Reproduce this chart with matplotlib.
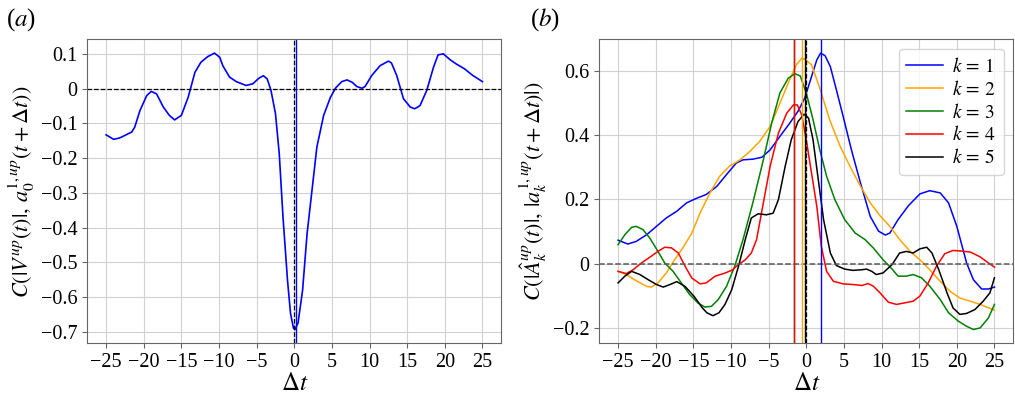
import matplotlib
matplotlib.use("Agg")
import matplotlib.pyplot as plt
import numpy as np

plt.rcParams['font.family'] = ['Liberation Serif', 'DejaVu Serif']
plt.rcParams['mathtext.fontset'] = 'stix'
plt.rcParams['axes.edgecolor'] = '0.4'
plt.rcParams['xtick.color'] = '0.4'
plt.rcParams['ytick.color'] = '0.4'
plt.rcParams['xtick.labelcolor'] = 'black'
plt.rcParams['ytick.labelcolor'] = 'black'

# ---- panel (a): C(|V^up|, a_0) vs lag
dt_a = [-25.0, -24.0, -23.2, -21.6, -21.2, -20.5, -19.6, -19.0, -18.3, -17.4,
        -16.6, -15.9, -15.0, -14.1, -13.2, -12.4, -11.5, -10.6, -9.9, -9.5,
        -8.6, -7.7, -6.4, -5.5, -4.7, -4.1, -3.6, -3.1, -2.5, -2.0,
        -1.5, -0.9, -0.5, -0.1, 0.1, 0.5, 1.1, 1.7, 2.4, 3.0,
        3.9, 4.8, 5.5, 6.3, 7.0, 7.7, 8.3, 9.0, 9.4, 10.3,
        11.4, 12.5, 12.9, 13.6, 14.5, 15.4, 16.0, 16.7, 17.6, 18.5,
        19.1, 19.8, 20.7, 21.5, 22.6, 23.7, 25.0]
corr_a = [-0.133, -0.146, -0.142, -0.125, -0.111, -0.063, -0.020, -0.008, -0.015, -0.053,
          -0.077, -0.090, -0.077, -0.025, 0.047, 0.076, 0.092, 0.102, 0.090, 0.066,
          0.033, 0.020, 0.009, 0.014, 0.030, 0.037, 0.028, -0.005, -0.072, -0.187,
          -0.370, -0.552, -0.647, -0.690, -0.693, -0.674, -0.580, -0.417, -0.283, -0.168,
          -0.077, -0.025, 0.002, 0.020, 0.025, 0.018, 0.006, 0.001, 0.006, 0.038,
          0.066, 0.079, 0.074, 0.038, -0.029, -0.053, -0.058, -0.049, -0.005, 0.062,
          0.097, 0.100, 0.083, 0.071, 0.057, 0.038, 0.020]
peak_a = 0.2

# ---- panel (b): C(|A_k^up|, |a_k|) vs lag, k = 1..5
dt_k1 = [-25.0, -23.7, -22.6, -21.2, -19.9, -18.6, -17.2, -15.9, -14.6, -13.3,
         -11.9, -10.6, -9.3, -8.4, -7.1, -5.9, -4.8, -3.5, -2.2, -1.1,
         -0.2, 0.7, 1.4, 1.9, 2.5, 3.2, 4.0, 4.9, 6.0, 7.2,
         8.5, 9.6, 10.5, 11.1, 12.2, 13.6, 15.1, 16.4, 17.8, 18.9,
         20.0, 21.3, 22.2, 23.3, 24.2, 25.0]
corr_k1 = [0.073, 0.061, 0.069, 0.090, 0.116, 0.142, 0.163, 0.189, 0.203, 0.215,
           0.240, 0.277, 0.313, 0.323, 0.325, 0.331, 0.354, 0.396, 0.437, 0.474,
           0.515, 0.582, 0.634, 0.655, 0.647, 0.613, 0.541, 0.458, 0.354, 0.251,
           0.147, 0.101, 0.089, 0.095, 0.137, 0.181, 0.217, 0.227, 0.220, 0.189,
           0.116, 0.002, -0.050, -0.079, -0.079, -0.073]

dt_k2 = [-25.0, -23.9, -22.6, -21.2, -20.6, -19.7, -18.6, -17.5, -16.4, -15.2,
         -14.1, -12.8, -11.5, -10.2, -8.8, -7.5, -6.2, -4.8, -3.5, -2.4,
         -1.3, -0.6, -0.2, 0.7, 1.8, 3.1, 4.5, 5.8, 7.2, 8.5,
         9.8, 11.1, 12.4, 13.8, 15.1, 16.4, 17.8, 19.1, 20.4, 21.8,
         23.1, 25.0]
corr_k2 = [-0.024, -0.034, -0.053, -0.071, -0.073, -0.060, -0.029, 0.012, 0.049, 0.095,
           0.158, 0.220, 0.272, 0.303, 0.323, 0.349, 0.380, 0.427, 0.499, 0.562,
           0.619, 0.639, 0.636, 0.619, 0.546, 0.448, 0.365, 0.303, 0.241, 0.189,
           0.149, 0.116, 0.075, 0.038, 0.012, -0.019, -0.055, -0.086, -0.107, -0.117,
           -0.127, -0.145]

dt_k3 = [-25.0, -24.1, -23.2, -22.6, -21.7, -20.8, -19.7, -18.8, -17.7, -16.6,
         -15.5, -14.4, -13.5, -12.6, -11.7, -10.6, -9.5, -8.4, -7.1, -5.7,
         -4.6, -3.5, -2.4, -1.5, -0.8, 0.0, 0.9, 1.8, 2.7, 3.8,
         5.1, 6.5, 7.8, 8.9, 10.2, 11.4, 12.2, 13.3, 14.2, 15.3,
         16.4, 17.8, 18.9, 20.2, 21.3, 22.2, 23.1, 24.2, 25.0]
corr_k3 = [0.059, 0.090, 0.113, 0.116, 0.106, 0.080, 0.038, 0.002, -0.024, -0.060,
           -0.096, -0.122, -0.135, -0.133, -0.112, -0.071, -0.008, 0.075, 0.189, 0.323,
           0.437, 0.531, 0.577, 0.591, 0.584, 0.531, 0.448, 0.354, 0.272, 0.199,
           0.137, 0.095, 0.075, 0.049, 0.012, -0.017, -0.039, -0.039, -0.034, -0.044,
           -0.070, -0.112, -0.153, -0.179, -0.195, -0.205, -0.200, -0.169, -0.127]

dt_k4 = [-25.0, -23.9, -23.0, -21.9, -20.6, -19.7, -18.8, -17.9, -17.0, -16.1,
         -15.2, -14.1, -13.3, -12.1, -11.0, -9.9, -9.0, -8.1, -7.3, -6.6,
         -5.7, -4.8, -3.7, -2.6, -1.7, -1.2, -0.6, 0.0, 0.7, 1.4,
         2.0, 2.7, 3.6, 4.9, 6.2, 7.4, 8.2, 8.9, 9.8, 10.9,
         12.0, 13.1, 14.2, 15.1, 16.2, 17.3, 18.4, 19.5, 20.6, 21.8,
         23.1, 24.2, 25.0]
corr_k4 = [-0.024, -0.031, -0.019, 0.002, 0.023, 0.038, 0.051, 0.049, 0.033, -0.008,
           -0.045, -0.063, -0.060, -0.039, -0.031, -0.021, -0.003, 0.012, 0.033, 0.075,
           0.189, 0.303, 0.406, 0.468, 0.494, 0.494, 0.463, 0.385, 0.282, 0.178,
           0.054, -0.024, -0.055, -0.063, -0.065, -0.068, -0.062, -0.070, -0.091, -0.120,
           -0.127, -0.122, -0.117, -0.101, -0.060, -0.008, 0.031, 0.041, 0.039, 0.036,
           0.021, 0.002, -0.011]

dt_k5 = [-25.0, -24.1, -23.2, -22.1, -21.0, -19.9, -19.0, -18.1, -17.2, -16.1,
         -14.9, -13.8, -13.2, -12.4, -11.6, -10.8, -9.9, -9.0, -8.1, -7.3,
         -6.4, -5.3, -4.4, -3.7, -2.8, -2.0, -1.1, -0.3, 0.3, 0.9,
         1.6, 2.3, 3.2, 4.0, 5.1, 6.2, 7.4, 8.0, 8.7, 9.3,
         10.2, 11.4, 12.4, 13.3, 14.2, 15.1, 16.0, 16.7, 17.6, 18.7,
         19.5, 20.4, 21.3, 22.4, 23.5, 24.4, 25.0]
corr_k5 = [-0.060, -0.039, -0.024, -0.034, -0.050, -0.065, -0.073, -0.065, -0.056, -0.071,
           -0.102, -0.138, -0.153, -0.162, -0.153, -0.127, -0.081, -0.008, 0.075, 0.142,
           0.155, 0.152, 0.157, 0.199, 0.303, 0.385, 0.442, 0.465, 0.453, 0.385,
           0.261, 0.137, 0.033, -0.006, -0.017, -0.021, -0.019, -0.017, -0.024, -0.034,
           -0.029, -0.003, 0.033, 0.038, 0.033, 0.046, 0.051, 0.033, -0.019, -0.091,
           -0.138, -0.158, -0.155, -0.143, -0.117, -0.091, -0.044]

modes = ['$k\\,=\\,1$', '$k\\,=\\,2$', '$k\\,=\\,3$', '$k\\,=\\,4$', '$k\\,=\\,5$']
colors = ['blue', 'orange', 'green', 'red', 'black']
peaks_b = [2.0, -0.55, -1.6, -1.6, -0.2]
dts_b = [dt_k1, dt_k2, dt_k3, dt_k4, dt_k5]
corrs_b = [corr_k1, corr_k2, corr_k3, corr_k4, corr_k5]

fig = plt.figure(figsize=(10.15, 3.98), dpi=100)
ax1 = fig.add_axes([0.086, 0.1374, 0.4079, 0.7638])
ax2 = fig.add_axes([0.5904, 0.1374, 0.4079, 0.7638])

# (a)
ax1.grid(True, color='0.82', linewidth=0.8)
ax1.set_axisbelow(True)
ax1.plot(dt_a, corr_a, color='blue', linewidth=1.2)
ax1.axhline(0, color='black', linestyle='--', linewidth=0.9)
ax1.axvline(0, color='black', linestyle='--', linewidth=0.9)
ax1.axvline(peak_a, color='blue', linewidth=1.0)
ax1.set_xticks(np.arange(-25, 26, 5))
ax1.set_yticks([0.1, 0, -0.1, -0.2, -0.3, -0.4, -0.5, -0.6, -0.7])
ax1.set_yticklabels(['0.1', '0', '\u22120.1', '\u22120.2', '\u22120.3', '\u22120.4',
                     '\u22120.5', '\u22120.6', '\u22120.7'])
ax1.set_xlabel(r'$\Delta t$', fontsize=18, labelpad=1)
ax1.set_ylabel(r'$C(|V^{up}(t)|,\, a_0^{1,up}(t + \Delta t))$', fontsize=16, labelpad=3)
ax1.tick_params(labelsize=14.5, length=3.5)

# (b)
ax2.grid(True, color='0.82', linewidth=0.8)
ax2.set_axisbelow(True)
for dt, c, col, lab in zip(dts_b, corrs_b, colors, modes):
    ax2.plot(dt, c, color=col, linewidth=1.1, label=lab)
ax2.axhline(0, color='0.35', linestyle='--', linewidth=1.1)
ax2.axvline(0, color='black', linestyle='--', linewidth=0.9)
for p, col in zip(peaks_b, colors):
    ax2.axvline(p, color=col, linewidth=1.0)
ax2.set_xticks(np.arange(-25, 26, 5))
ax2.set_yticks([-0.2, 0, 0.2, 0.4, 0.6])
ax2.set_yticklabels(['\u22120.2', '0', '0.2', '0.4', '0.6'])
ax2.set_xlabel(r'$\Delta t$', fontsize=18, labelpad=1)
ax2.set_ylabel(r'$C(|\hat{A}_k^{up}(t)|,\, |a_k^{1,up}(t + \Delta t)|)$', fontsize=16, labelpad=3)
ax2.tick_params(labelsize=14.5, length=3.5)
ax2.legend(loc='upper right', fontsize=14, handlelength=1.9, handletextpad=0.45,
           labelspacing=0.2, borderpad=0.4)

fig.text(0.006, 0.935, '($a$)', fontsize=18)
fig.text(0.522, 0.935, '($b$)', fontsize=18)

fig.savefig('out.png', dpi=100)
